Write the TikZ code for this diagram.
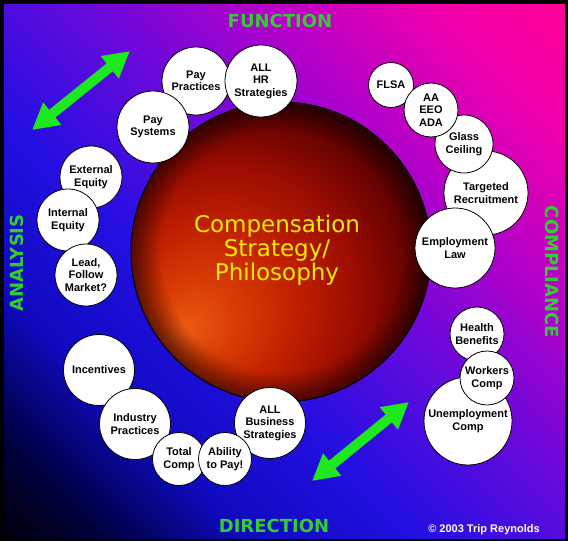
\documentclass[tikz,border=0pt]{standalone}
\usepackage{fontspec}
\setmainfont{Liberation Sans}
\newfontfamily\dejavu{DejaVu Sans}
\usepackage{tikz}
\usetikzlibrary{arrows.meta, fadings}

\definecolor{bgA}{RGB}{0,0,10}
\definecolor{bgB}{RGB}{0,0,70}
\definecolor{bgC}{RGB}{15,10,190}
\definecolor{bgD}{RGB}{35,15,225}
\definecolor{bgE}{RGB}{100,10,220}
\definecolor{bgF}{RGB}{180,0,200}
\definecolor{bgG}{RGB}{240,0,170}
\definecolor{bgH}{RGB}{255,0,150}
\definecolor{sphA}{RGB}{235,92,18}
\definecolor{sphB}{RGB}{218,62,5}
\definecolor{sphC}{RGB}{192,32,0}
\definecolor{sphD}{RGB}{152,12,0}
\definecolor{sphE}{RGB}{90,0,0}
\definecolor{sphF}{RGB}{35,0,0}
\definecolor{sphG}{RGB}{5,0,0}
\definecolor{labelgreen}{RGB}{50,205,50}
\definecolor{arrowgreen}{RGB}{30,232,30}
\definecolor{titleyellow}{RGB}{245,235,0}

\pgfdeclarehorizontalshading{backdrop}{100bp}{color(0bp)=(bgA); color(14.6bp)=(bgA);
  color(21.7bp)=(bgB); color(30.2bp)=(bgC); color(41.5bp)=(bgD); color(53.5bp)=(bgE);
  color(65.6bp)=(bgF); color(76.9bp)=(bgG); color(85.4bp)=(bgH); color(100bp)=(bgH)}
\pgfdeclareradialshading{sphereshade}{\pgfpoint{-16bp}{-13bp}}{color(0bp)=(sphA);
  color(6bp)=(sphB); color(14bp)=(sphC); color(22bp)=(sphD); color(30bp)=(sphE);
  color(37bp)=(sphF); color(43bp)=(sphG); color(50bp)=(black)}
\pgfdeclareradialshading{rimshade}{\pgfpointorigin}{color(0bp)=(pgftransparent!100);
  color(20bp)=(pgftransparent!100); color(25bp)=(pgftransparent!45); color(50bp)=(pgftransparent!45)}
\pgfdeclarefading{rimfade}{\pgfuseshading{rimshade}}

\begin{document}
\begin{tikzpicture}[x=1pt, y=-1pt,
            bubble/.style={circle, draw=black, line width=0.8pt, fill=white, inner sep=0pt,
                align=center, font=\bfseries\fontsize{11}{12.5}\selectfont},
            corner/.style={font=\dejavu\bfseries\fontsize{18}{18}\selectfont, text=labelgreen},
            twoway/.style={draw=arrowgreen, line width=10pt,
                {Triangle[length=26pt, width=27pt]}-{Triangle[length=26pt, width=27pt]}}]
            \useasboundingbox (0,0) rectangle (568,541);

            % frame and backdrop
            \fill[black] (0,0) rectangle (568,541);
            \shade[shading=backdrop, shading angle=45] (4,4) rectangle (565,538);

            % sphere
            \node[circle, minimum size=300pt, inner sep=0pt, shading=sphereshade,
                draw=black, line width=1pt] (core) at (281,252) {};
            \fill[black, path fading=rimfade] (core.center) circle[radius=150];
            \node[font=\dejavu\fontsize{23}{24}\selectfont, text=titleyellow, align=center]
                (title) at (277,250) {Compensation\\Strategy/\\Philosophy};

            % function side
            \node[bubble, minimum size=68pt] (paypract) at (196,81) {Pay\\Practices};
            \node[bubble, minimum size=72pt] (allhr) at (261,81) {ALL\\HR\\Strategies};
            \node[bubble, minimum size=72pt] (paysys) at (153,127) {Pay\\Systems};

            % analysis side
            \node[bubble, minimum size=62pt] (exteq) at (91,177) {External\\Equity};
            \node[bubble, minimum size=62pt] (inteq) at (68,220) {Internal\\Equity};
            \node[bubble, minimum size=62pt] (lead) at (86,275) {Lead,\\Follow\\Market?};

            % direction side
            \node[bubble, minimum size=71pt] (incent) at (99,370) {Incentives};
            \node[bubble, minimum size=71pt] (industry) at (135,424) {Industry\\Practices};
            \node[bubble, minimum size=71pt] (allbus) at (270,423) {ALL\\Business\\Strategies};
            \node[bubble, minimum size=53pt] (totalcomp) at (179,459) {Total\\Comp};
            \node[bubble, minimum size=53pt] (ability) at (225,459) {Ability\\to Pay!};

            % compliance side
            \node[bubble, minimum size=84pt] (targeted) at (486,193) {Targeted\\Recruitment};
            \node[bubble, minimum size=58pt] (glass) at (464,144) {Glass\\Ceiling};
            \node[bubble, minimum size=45pt] (flsa) at (391,85) {FLSA};
            \node[bubble, minimum size=54pt] (aaeeo) at (431,110) {AA\\EEO\\ADA};
            \node[bubble, minimum size=80pt] (emplaw) at (455,248) {Employment\\Law};
            \node[bubble, minimum size=88pt] (unemp) at (468,421) {Unemployment\\Comp};
            \node[bubble, minimum size=54pt] (health) at (477,334) {Health\\Benefits};
            \node[bubble, minimum size=54pt] (workers) at (487,378) {Workers\\Comp};

            % side labels
            \node[corner] (function) at (280,21) {FUNCTION};
            \node[corner] (direction) at (274,526) {DIRECTION};
            \node[corner, rotate=90] (analysis) at (17,263) {ANALYSIS};
            \node[corner, rotate=-90] (compliance) at (552,272) {COMPLIANCE};
            \node[font=\bfseries\fontsize{11}{11}\selectfont, text=white] (credit) at (484,530) {© 2003 Trip Reynolds};

            % two-way arrows
            \coordinate (upA) at (32,130);
            \coordinate (upB) at (130,51);
            \coordinate (lowA) at (312,481);
            \coordinate (lowB) at (409,402);
            \draw[twoway] (upA) -- (upB);
            \draw[twoway] (lowA) -- (lowB);
        \end{tikzpicture}
\end{document}
